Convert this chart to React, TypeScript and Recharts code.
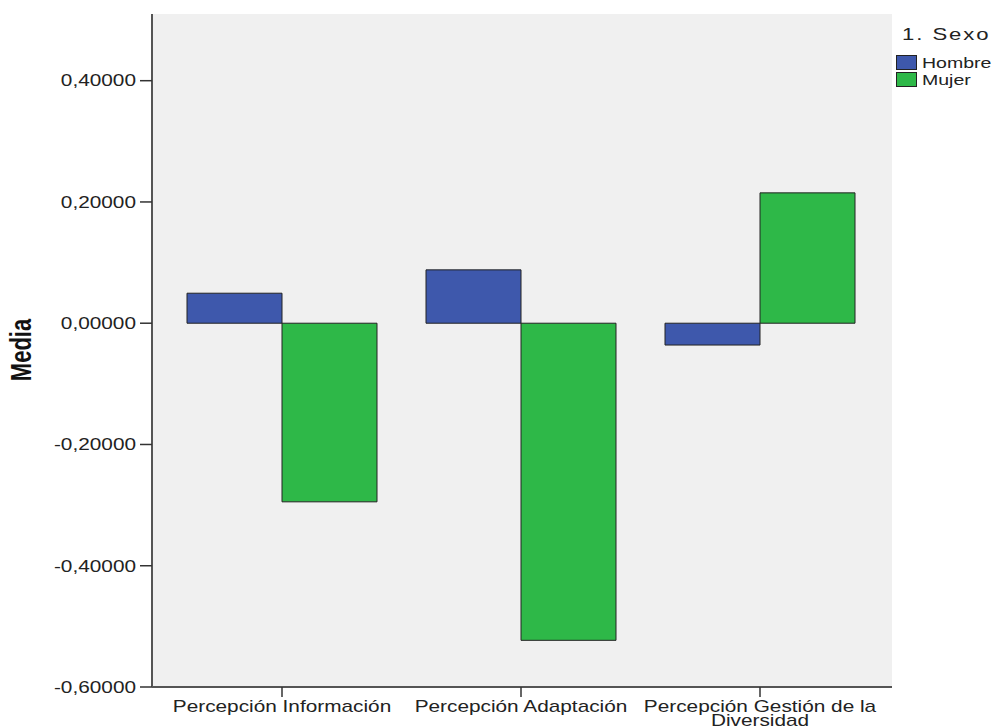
import { BarChart, Bar, XAxis, YAxis, CartesianGrid, Legend } from 'recharts'

const categories = [
  'Percepción Información',
  'Percepción Adaptación',
  'Percepción Gestión de la Diversidad',
]
const seriesNames = ['Hombre', 'Mujer']
const hombre = [0.0495, 0.088, -0.036]
const mujer = [-0.2946, -0.523, 0.215]
const yTicks = [-0.6, -0.4, -0.2, 0, 0.2, 0.4]
const yDomain = [-0.6, 0.51]

const COLORS = ['#3E58AC', '#2EB848']
const FONT = "'Liberation Sans', Arial, sans-serif"
const STRETCH = 1.3

const data = categories.map((name, i) => ({
  name,
  [seriesNames[0]]: hombre[i],
  [seriesNames[1]]: mujer[i],
}))

const fmt = (v: number) => v.toFixed(5).replace('.', ',')

let ctx: CanvasRenderingContext2D | null = null
function measure(text: string) {
  if (!ctx) ctx = document.createElement('canvas').getContext('2d')
  if (!ctx) return text.length * 8
  ctx.font = `16px ${FONT}`
  return ctx.measureText(text).width
}

function wrap(text: string, maxWidth: number) {
  const words = text.split(' ')
  const lines: string[] = []
  let cur = ''
  for (const w of words) {
    const next = cur ? cur + ' ' + w : w
    if (cur && measure(next) > maxWidth) {
      lines.push(cur)
      cur = w
    } else {
      cur = next
    }
  }
  if (cur) lines.push(cur)
  return lines
}

function YTick({ x, y, payload }: any) {
  return (
    <g transform={`translate(${x},${y})`}>
      <text
        transform={`scale(${STRETCH},1)`}
        textAnchor="end"
        dy="0.36em"
        fontSize={16}
        fontFamily={FONT}
        fill="#222"
      >
        {fmt(payload.value)}
      </text>
    </g>
  )
}

function XTick({ x, y, payload }: any) {
  const lines = wrap(payload.value, 184)
  return (
    <g transform={`translate(${x},${y})`}>
      <text
        transform={`scale(${STRETCH},1)`}
        textAnchor="middle"
        fontSize={16}
        fontFamily={FONT}
        fill="#222"
      >
        {lines.map((l, i) => (
          <tspan key={i} x={0} dy={i === 0 ? '0.75em' : 14}>
            {l}
          </tspan>
        ))}
      </text>
    </g>
  )
}

function LegendBox({ payload }: any) {
  const textStyle = {
    display: 'inline-block',
    transform: `scaleX(${STRETCH})`,
    transformOrigin: 'left center',
    fontFamily: FONT,
    color: '#222',
  }
  return (
    <div style={{ width: 99 }}>
      <div style={{ ...textStyle, fontSize: 17, letterSpacing: 1.5, marginLeft: 6, height: 30, lineHeight: '22px' }}>
        1. Sexo
      </div>
      {(payload || []).map((p: any) => (
        <div key={p.value} style={{ display: 'flex', alignItems: 'center', height: 16, marginBottom: 1 }}>
          <span
            style={{
              width: 19,
              height: 13,
              background: p.color,
              border: '1px solid #222',
              marginRight: 5,
              flex: 'none',
            }}
          />
          <span style={{ ...textStyle, fontSize: 15 }}>{p.value}</span>
        </div>
      ))}
    </div>
  )
}

export default function App() {
  return (
    <div style={{ position: 'absolute', left: 0, top: 0, background: '#fff' }}>
      <BarChart
        width={995}
        height={727}
        data={data}
        margin={{ top: 14, right: 103, bottom: 0, left: 0 }}
        barCategoryGap={24.5}
        barGap={0}
      >
        <CartesianGrid fill="#F0F0F0" horizontal={false} vertical={false} />
        <XAxis
          dataKey="name"
          height={40}
          padding={{ left: 10.5, right: 12.5 }}
          interval={0}
          tickSize={10}
          tickMargin={3}
          tickLine={{ stroke: '#333', strokeWidth: 1.5 }}
          axisLine={{ stroke: '#555', strokeWidth: 2 }}
          tick={<XTick />}
        />
        <XAxis xAxisId="top" dataKey="name" orientation="top" height={0} tick={false} tickLine={false} axisLine={{ stroke: '#666', strokeWidth: 2 }} />
        <YAxis
          width={152}
          domain={yDomain}
          ticks={yTicks}
          allowDataOverflow
          tickSize={12}
          tickMargin={4}
          tickLine={{ stroke: '#333', strokeWidth: 1.5 }}
          axisLine={{ stroke: '#555', strokeWidth: 2 }}
          tick={<YTick />}
          label={{
            content: () => (
              <text
                transform={`translate(21,350) scale(${STRETCH},1) rotate(-90)`}
                textAnchor="middle"
                dominantBaseline="central"
                fontSize={22}
                fontWeight="bold"
                fontFamily={FONT}
                fill="#111"
              >
                Media
              </text>
            ),
          }}
        />
        <YAxis yAxisId="right" orientation="right" width={0} domain={yDomain} tick={false} tickLine={false} axisLine={{ stroke: '#555', strokeWidth: 2 }} />
        <Legend
          layout="vertical"
          align="center"
          verticalAlign="middle"
          content={<LegendBox />}
          wrapperStyle={{ left: 896, top: 24, width: 99 }}
        />
        {seriesNames.map((s, i) => (
          <Bar key={s} dataKey={s} fill={COLORS[i]} stroke="#222" strokeWidth={1} isAnimationActive={false} />
        ))}
      </BarChart>
    </div>
  )
}
